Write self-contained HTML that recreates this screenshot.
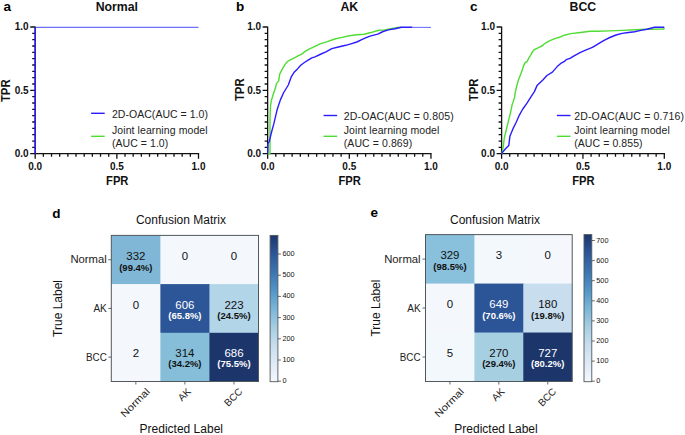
<!DOCTYPE html>
<html><head><meta charset="utf-8"><title>ROC and confusion matrices</title><style>
html,body{margin:0;padding:0;background:#fff;}
svg{display:block;}
text{font-family:"Liberation Sans", sans-serif;}
.tk{font-size:10px;font-weight:700;fill:#111;}
.ttl{font-size:12.3px;font-weight:700;fill:#111;}
.pl{font-size:13.5px;font-weight:700;fill:#000;}
.axt{font-size:12.2px;font-weight:700;fill:#111;}
.lg{font-size:10.5px;fill:#222;}
.cn{font-size:10px;}
.cp{font-size:9.5px;font-weight:700;}
.rl{font-size:10px;fill:#222;}
.ct{font-size:12px;fill:#111;}
.cb{font-size:7.3px;fill:#111;}
</style></head>
<body><svg width="685" height="435" viewBox="0 0 685 435">
<defs><linearGradient id="gd" x1="0" y1="1" x2="0" y2="0"><stop offset="0.000" stop-color="#f4f8fc"/><stop offset="0.125" stop-color="#deeaf5"/><stop offset="0.250" stop-color="#c8ddee"/><stop offset="0.375" stop-color="#a5cde2"/><stop offset="0.500" stop-color="#79b5d8"/><stop offset="0.625" stop-color="#5195c6"/><stop offset="0.750" stop-color="#3a74b0"/><stop offset="0.875" stop-color="#2c5697"/><stop offset="1.000" stop-color="#1c366c"/></linearGradient><linearGradient id="ge" x1="0" y1="1" x2="0" y2="0"><stop offset="0.000" stop-color="#f4f8fc"/><stop offset="0.125" stop-color="#deeaf5"/><stop offset="0.250" stop-color="#c8ddee"/><stop offset="0.375" stop-color="#a5cde2"/><stop offset="0.500" stop-color="#79b5d8"/><stop offset="0.625" stop-color="#5195c6"/><stop offset="0.750" stop-color="#3a74b0"/><stop offset="0.875" stop-color="#2c5697"/><stop offset="1.000" stop-color="#1c366c"/></linearGradient></defs>
<rect width="685" height="435" fill="#fff"/>
<path d="M35.20,26.40V153.70 M34.50,153.70H199.20 M30.20,153.70H35.20 M32.20,147.36H35.20 M32.20,141.03H35.20 M32.20,134.69H35.20 M32.20,128.36H35.20 M32.20,122.02H35.20 M32.20,115.69H35.20 M32.20,109.35H35.20 M32.20,103.02H35.20 M32.20,96.68H35.20 M30.20,90.35H35.20 M32.20,84.02H35.20 M32.20,77.68H35.20 M32.20,71.34H35.20 M32.20,65.01H35.20 M32.20,58.67H35.20 M32.20,52.34H35.20 M32.20,46.01H35.20 M32.20,39.67H35.20 M32.20,33.34H35.20 M30.20,27.00H35.20 M35.20,153.70V158.70 M43.37,153.70V156.70 M51.53,153.70V156.70 M59.70,153.70V156.70 M67.86,153.70V156.70 M76.03,153.70V156.70 M84.19,153.70V156.70 M92.36,153.70V156.70 M100.52,153.70V156.70 M108.69,153.70V156.70 M116.85,153.70V158.70 M125.02,153.70V156.70 M133.18,153.70V156.70 M141.35,153.70V156.70 M149.51,153.70V156.70 M157.68,153.70V156.70 M165.84,153.70V156.70 M174.00,153.70V156.70 M182.17,153.70V156.70 M190.34,153.70V156.70 M198.50,153.70V158.70" stroke="#111" stroke-width="1.3" fill="none"/>
<text x="28.60" y="157.00" text-anchor="end" class="tk">0.0</text>
<text x="35.20" y="169.6" text-anchor="middle" class="tk">0.0</text>
<text x="28.60" y="93.65" text-anchor="end" class="tk">0.5</text>
<text x="116.85" y="169.6" text-anchor="middle" class="tk">0.5</text>
<text x="28.60" y="30.30" text-anchor="end" class="tk">1.0</text>
<text x="198.50" y="169.6" text-anchor="middle" class="tk">1.0</text>
<text x="116.85" y="10.8" text-anchor="middle" class="ttl">Normal</text>
<text x="3.60" y="10.70" class="pl">a</text>
<text x="117.25" y="185.2" text-anchor="middle" class="axt" textLength="22.4" lengthAdjust="spacingAndGlyphs">FPR</text>
<text transform="translate(9.80,90.75) rotate(-90)" text-anchor="middle" class="axt" textLength="22.6" lengthAdjust="spacingAndGlyphs">TPR</text>
<path d="M91.10,113.30h13.6" stroke="#2b1cff" stroke-width="1.4"/>
<path d="M91.10,136.3h13.6" stroke="#4fdc33" stroke-width="1.4"/>
<text x="112.00" y="118.10" class="lg" textLength="95.91" lengthAdjust="spacing">2D-OAC(AUC = 1.0)</text>
<text x="112.00" y="133.7" class="lg" textLength="95.58" lengthAdjust="spacing">Joint learning model</text>
<text x="112.00" y="146.6" class="lg" textLength="56.23" lengthAdjust="spacing">(AUC = 1.0)</text>
<path d="M35.2,153.7V27.4" stroke="#2b1cff" stroke-width="1.5" fill="none"/>
<path d="M35.9,27.4H198.5" stroke="#7070ff" stroke-width="1.1" fill="none"/>
<path d="M267.65,26.40V153.70 M266.95,153.70H431.65 M262.65,153.70H267.65 M264.65,147.36H267.65 M264.65,141.03H267.65 M264.65,134.69H267.65 M264.65,128.36H267.65 M264.65,122.02H267.65 M264.65,115.69H267.65 M264.65,109.35H267.65 M264.65,103.02H267.65 M264.65,96.68H267.65 M262.65,90.35H267.65 M264.65,84.02H267.65 M264.65,77.68H267.65 M264.65,71.34H267.65 M264.65,65.01H267.65 M264.65,58.67H267.65 M264.65,52.34H267.65 M264.65,46.01H267.65 M264.65,39.67H267.65 M264.65,33.34H267.65 M262.65,27.00H267.65 M267.65,153.70V158.70 M275.81,153.70V156.70 M283.98,153.70V156.70 M292.14,153.70V156.70 M300.31,153.70V156.70 M308.47,153.70V156.70 M316.64,153.70V156.70 M324.81,153.70V156.70 M332.97,153.70V156.70 M341.13,153.70V156.70 M349.30,153.70V158.70 M357.46,153.70V156.70 M365.63,153.70V156.70 M373.79,153.70V156.70 M381.96,153.70V156.70 M390.12,153.70V156.70 M398.29,153.70V156.70 M406.45,153.70V156.70 M414.62,153.70V156.70 M422.78,153.70V156.70 M430.95,153.70V158.70" stroke="#111" stroke-width="1.3" fill="none"/>
<polyline points="267.65,153.70 270.00,153.70 270.00,134.70 270.00,118.10 270.50,106.50 271.30,100.70 273.80,92.50 275.50,88.00 276.40,83.60 278.70,80.90 279.60,74.40 282.40,68.90 285.10,64.30 287.90,61.10 293.40,58.30 298.00,55.90 301.70,54.20 304.40,51.90 309.00,49.10 315.00,46.40 320.00,43.80 327.40,41.60 334.70,39.00 342.10,37.40 349.40,35.70 356.80,34.80 364.10,34.30 370.00,32.80 377.80,30.50 384.40,29.90 391.00,28.60 397.60,27.50 401.50,27.30" fill="none" stroke="#4fdc33" stroke-width="1.4" stroke-linejoin="round" stroke-linecap="butt"/>
<polyline points="267.65,153.70 267.90,143.80 269.30,141.30 271.30,133.00 273.80,123.90 277.10,109.80 280.40,99.90 283.70,92.50 286.50,88.00 288.30,85.00 291.10,77.20 293.90,72.60 297.50,68.90 300.70,65.20 304.40,62.50 308.10,60.20 311.80,57.90 315.00,56.80 320.00,54.50 325.90,51.90 331.80,48.60 338.40,47.00 345.70,45.30 350.90,43.80 356.80,42.00 361.20,39.80 365.60,37.90 370.00,36.10 377.80,34.10 383.10,31.50 388.40,29.90 394.90,28.80 401.50,27.30 412.50,27.30" fill="none" stroke="#2b1cff" stroke-width="1.4" stroke-linejoin="round" stroke-linecap="butt"/>
<text x="261.05" y="157.00" text-anchor="end" class="tk">0.0</text>
<text x="267.65" y="169.6" text-anchor="middle" class="tk">0.0</text>
<text x="261.05" y="93.65" text-anchor="end" class="tk">0.5</text>
<text x="349.30" y="169.6" text-anchor="middle" class="tk">0.5</text>
<text x="261.05" y="30.30" text-anchor="end" class="tk">1.0</text>
<text x="430.95" y="169.6" text-anchor="middle" class="tk">1.0</text>
<text x="349.30" y="10.8" text-anchor="middle" class="ttl">AK</text>
<text x="236.00" y="10.80" class="pl">b</text>
<text x="349.70" y="185.2" text-anchor="middle" class="axt" textLength="22.4" lengthAdjust="spacingAndGlyphs">FPR</text>
<text transform="translate(243.50,89.75) rotate(-90)" text-anchor="middle" class="axt" textLength="22.6" lengthAdjust="spacingAndGlyphs">TPR</text>
<path d="M323.55,115.50h13.6" stroke="#2b1cff" stroke-width="1.4"/>
<path d="M323.55,136.3h13.6" stroke="#4fdc33" stroke-width="1.4"/>
<text x="343.75" y="120.30" class="lg" textLength="109.88" lengthAdjust="spacing">2D-OAC(AUC = 0.805)</text>
<text x="343.75" y="133.7" class="lg" textLength="95.58" lengthAdjust="spacing">Joint learning model</text>
<text x="343.75" y="146.6" class="lg" textLength="68.41" lengthAdjust="spacing">(AUC = 0.869)</text>
<path d="M412.5,27.4H430.95" stroke="#7070ff" stroke-width="1.1" fill="none"/>
<path d="M501.60,26.40V153.70 M500.90,153.70H665.00 M496.60,153.70H501.60 M498.60,147.36H501.60 M498.60,141.03H501.60 M498.60,134.69H501.60 M498.60,128.36H501.60 M498.60,122.02H501.60 M498.60,115.69H501.60 M498.60,109.35H501.60 M498.60,103.02H501.60 M498.60,96.68H501.60 M496.60,90.35H501.60 M498.60,84.02H501.60 M498.60,77.68H501.60 M498.60,71.34H501.60 M498.60,65.01H501.60 M498.60,58.67H501.60 M498.60,52.34H501.60 M498.60,46.01H501.60 M498.60,39.67H501.60 M498.60,33.34H501.60 M496.60,27.00H501.60 M501.60,153.70V158.70 M509.74,153.70V156.70 M517.87,153.70V156.70 M526.00,153.70V156.70 M534.14,153.70V156.70 M542.27,153.70V156.70 M550.41,153.70V156.70 M558.54,153.70V156.70 M566.68,153.70V156.70 M574.81,153.70V156.70 M582.95,153.70V158.70 M591.09,153.70V156.70 M599.22,153.70V156.70 M607.36,153.70V156.70 M615.49,153.70V156.70 M623.62,153.70V156.70 M631.76,153.70V156.70 M639.89,153.70V156.70 M648.03,153.70V156.70 M656.16,153.70V156.70 M664.30,153.70V158.70" stroke="#111" stroke-width="1.3" fill="none"/>
<polyline points="501.60,153.70 502.10,152.90 503.30,146.30 504.30,138.00 505.50,133.00 507.90,123.10 510.40,113.10 512.10,104.90 514.60,97.40 515.30,92.00 517.00,85.00 518.80,79.00 520.60,74.40 522.00,70.70 523.40,66.10 525.20,62.50 527.10,61.60 528.90,57.90 530.70,55.10 532.60,51.40 534.40,49.60 538.10,47.80 542.70,45.50 543.50,44.50 548.30,41.30 554.70,38.60 559.60,37.30 564.40,35.20 570.80,33.60 580.50,32.50 590.00,31.30 597.40,31.30 609.80,30.90 622.20,30.40 634.60,29.80 647.00,29.30 663.90,29.10 663.90,27.40" fill="none" stroke="#4fdc33" stroke-width="1.4" stroke-linejoin="round" stroke-linecap="butt"/>
<polyline points="501.60,153.70 502.10,152.90 505.50,148.70 508.80,145.40 509.90,136.30 512.90,128.90 516.20,122.30 519.50,114.80 522.80,109.00 527.00,103.20 531.10,96.60 534.40,91.60 537.00,85.60 543.10,79.70 546.90,75.50 552.40,72.10 557.20,66.60 560.70,63.40 564.10,61.70 566.20,59.70 570.00,58.30 574.10,55.80 580.50,52.30 585.00,50.30 592.40,47.40 597.40,44.30 603.60,40.60 609.80,37.50 616.00,35.00 622.20,33.40 628.40,32.50 634.60,31.70 640.80,30.40 647.00,29.20 654.50,27.30 664.30,27.30" fill="none" stroke="#2b1cff" stroke-width="1.4" stroke-linejoin="round" stroke-linecap="butt"/>
<text x="495.00" y="157.00" text-anchor="end" class="tk">0.0</text>
<text x="501.60" y="169.6" text-anchor="middle" class="tk">0.0</text>
<text x="495.00" y="93.65" text-anchor="end" class="tk">0.5</text>
<text x="582.95" y="169.6" text-anchor="middle" class="tk">0.5</text>
<text x="495.00" y="30.30" text-anchor="end" class="tk">1.0</text>
<text x="664.30" y="169.6" text-anchor="middle" class="tk">1.0</text>
<text x="582.95" y="10.8" text-anchor="middle" class="ttl">BCC</text>
<text x="470.00" y="11.00" class="pl">c</text>
<text x="583.35" y="185.2" text-anchor="middle" class="axt" textLength="22.4" lengthAdjust="spacingAndGlyphs">FPR</text>
<text transform="translate(477.60,89.95) rotate(-90)" text-anchor="middle" class="axt" textLength="22.6" lengthAdjust="spacingAndGlyphs">TPR</text>
<path d="M556.90,115.50h13.6" stroke="#2b1cff" stroke-width="1.4"/>
<path d="M556.90,136.3h13.6" stroke="#4fdc33" stroke-width="1.4"/>
<text x="574.20" y="120.30" class="lg" textLength="109.88" lengthAdjust="spacing">2D-OAC(AUC = 0.716)</text>
<text x="574.20" y="133.7" class="lg" textLength="95.58" lengthAdjust="spacing">Joint learning model</text>
<text x="574.20" y="146.6" class="lg" textLength="68.41" lengthAdjust="spacing">(AUC = 0.855)</text>
<rect x="111.30" y="235.40" width="49.67" height="49.30" fill="#80b7d6"/>
<rect x="160.37" y="235.40" width="49.67" height="49.30" fill="#f4f8fc"/>
<rect x="209.43" y="235.40" width="49.07" height="49.30" fill="#f4f8fc"/>
<rect x="111.30" y="284.10" width="49.67" height="49.30" fill="#f4f8fc"/>
<rect x="160.37" y="284.10" width="49.67" height="49.30" fill="#2c5697"/>
<rect x="209.43" y="284.10" width="49.07" height="49.30" fill="#b2d5e8"/>
<rect x="111.30" y="332.80" width="49.67" height="48.70" fill="#f4f8fc"/>
<rect x="160.37" y="332.80" width="49.67" height="48.70" fill="#86bdd8"/>
<rect x="209.43" y="332.80" width="49.07" height="48.70" fill="#1c366c"/>
<text x="135.83" y="260.05" text-anchor="middle" class="cn" fill="#111" textLength="19.08" lengthAdjust="spacingAndGlyphs">332</text>
<text x="135.83" y="270.65" text-anchor="middle" class="cp" fill="#111">(99.4%)</text>
<text x="184.90" y="260.05" text-anchor="middle" class="cn" fill="#111" textLength="6.36" lengthAdjust="spacingAndGlyphs">0</text>
<text x="233.97" y="260.05" text-anchor="middle" class="cn" fill="#111" textLength="6.36" lengthAdjust="spacingAndGlyphs">0</text>
<text x="135.83" y="308.75" text-anchor="middle" class="cn" fill="#111" textLength="6.36" lengthAdjust="spacingAndGlyphs">0</text>
<text x="184.90" y="308.75" text-anchor="middle" class="cn" fill="#fff" textLength="19.08" lengthAdjust="spacingAndGlyphs">606</text>
<text x="184.90" y="319.05" text-anchor="middle" class="cp" fill="#fff">(65.8%)</text>
<text x="233.97" y="308.75" text-anchor="middle" class="cn" fill="#111" textLength="19.08" lengthAdjust="spacingAndGlyphs">223</text>
<text x="233.97" y="319.05" text-anchor="middle" class="cp" fill="#111">(24.5%)</text>
<text x="135.83" y="357.45" text-anchor="middle" class="cn" fill="#111" textLength="6.36" lengthAdjust="spacingAndGlyphs">2</text>
<text x="184.90" y="357.45" text-anchor="middle" class="cn" fill="#111" textLength="19.08" lengthAdjust="spacingAndGlyphs">314</text>
<text x="184.90" y="366.75" text-anchor="middle" class="cp" fill="#111">(34.2%)</text>
<text x="233.97" y="357.45" text-anchor="middle" class="cn" fill="#fff" textLength="19.08" lengthAdjust="spacingAndGlyphs">686</text>
<text x="233.97" y="366.75" text-anchor="middle" class="cp" fill="#fff">(75.5%)</text>
<rect x="111.30" y="235.40" width="147.20" height="146.10" fill="none" stroke="#50585c" stroke-width="1"/>
<path d="M108.30,259.75H111.30 M135.83,381.50V384.50 M108.30,308.45H111.30 M184.90,381.50V384.50 M108.30,357.15H111.30 M233.97,381.50V384.50" stroke="#50585c" stroke-width="0.9"/>
<text x="106.80" y="263.35" text-anchor="end" class="rl" textLength="36.40" lengthAdjust="spacingAndGlyphs">Normal</text>
<text x="106.80" y="312.05" text-anchor="end" class="rl" textLength="13.40" lengthAdjust="spacingAndGlyphs">AK</text>
<text x="106.80" y="360.75" text-anchor="end" class="rl" textLength="20.80" lengthAdjust="spacingAndGlyphs">BCC</text>
<text transform="translate(135.03,402.50) rotate(-45)" text-anchor="middle" y="3.6" class="rl" textLength="36.40" lengthAdjust="spacingAndGlyphs">Normal</text>
<text transform="translate(184.10,394.37) rotate(-45)" text-anchor="middle" y="3.6" class="rl" textLength="13.40" lengthAdjust="spacingAndGlyphs">AK</text>
<text transform="translate(233.17,396.98) rotate(-45)" text-anchor="middle" y="3.6" class="rl" textLength="20.80" lengthAdjust="spacingAndGlyphs">BCC</text>
<rect x="270.10" y="235.40" width="7.8" height="146.30" fill="url(#gd)" stroke="#50585c" stroke-width="0.9"/>
<text x="282.40" y="383.20" class="cb">0</text>
<text x="282.40" y="362.00" class="cb">100</text>
<text x="282.40" y="340.80" class="cb">200</text>
<text x="282.40" y="319.60" class="cb">300</text>
<text x="282.40" y="298.40" class="cb">400</text>
<text x="282.40" y="277.20" class="cb">500</text>
<text x="282.40" y="256.00" class="cb">600</text>
<path d="M277.90,381.20h3 M277.90,360.00h3 M277.90,338.80h3 M277.90,317.60h3 M277.90,296.40h3 M277.90,275.20h3 M277.90,254.00h3" stroke="#444" stroke-width="0.8"/>
<text x="52.30" y="217.60" class="pl">d</text>
<text x="180.90" y="223.70" text-anchor="middle" class="ct">Confusion Matrix</text>
<text x="181.30" y="433.3" text-anchor="middle" class="ct">Predicted Label</text>
<text transform="translate(62.30,308.45) rotate(-90)" text-anchor="middle" class="ct">True Label</text>
<rect x="425.50" y="234.60" width="49.50" height="49.57" fill="#89c0dc"/>
<rect x="474.40" y="234.60" width="49.50" height="49.57" fill="#f3f8fc"/>
<rect x="523.30" y="234.60" width="48.90" height="49.57" fill="#f4f8fc"/>
<rect x="425.50" y="283.57" width="49.50" height="49.57" fill="#f4f8fc"/>
<rect x="474.40" y="283.57" width="49.50" height="49.57" fill="#2c5597"/>
<rect x="523.30" y="283.57" width="48.90" height="49.57" fill="#c8ddee"/>
<rect x="425.50" y="332.53" width="49.50" height="48.97" fill="#f3f8fc"/>
<rect x="474.40" y="332.53" width="49.50" height="48.97" fill="#a7cfe2"/>
<rect x="523.30" y="332.53" width="48.90" height="48.97" fill="#1c366c"/>
<text x="449.95" y="259.38" text-anchor="middle" class="cn" fill="#111" textLength="19.08" lengthAdjust="spacingAndGlyphs">329</text>
<text x="449.95" y="269.98" text-anchor="middle" class="cp" fill="#111">(98.5%)</text>
<text x="498.85" y="259.38" text-anchor="middle" class="cn" fill="#111" textLength="6.36" lengthAdjust="spacingAndGlyphs">3</text>
<text x="547.75" y="259.38" text-anchor="middle" class="cn" fill="#111" textLength="6.36" lengthAdjust="spacingAndGlyphs">0</text>
<text x="449.95" y="308.35" text-anchor="middle" class="cn" fill="#111" textLength="6.36" lengthAdjust="spacingAndGlyphs">0</text>
<text x="498.85" y="308.35" text-anchor="middle" class="cn" fill="#fff" textLength="19.08" lengthAdjust="spacingAndGlyphs">649</text>
<text x="498.85" y="318.65" text-anchor="middle" class="cp" fill="#fff">(70.6%)</text>
<text x="547.75" y="308.35" text-anchor="middle" class="cn" fill="#111" textLength="19.08" lengthAdjust="spacingAndGlyphs">180</text>
<text x="547.75" y="318.65" text-anchor="middle" class="cp" fill="#111">(19.8%)</text>
<text x="449.95" y="357.32" text-anchor="middle" class="cn" fill="#111" textLength="6.36" lengthAdjust="spacingAndGlyphs">5</text>
<text x="498.85" y="357.32" text-anchor="middle" class="cn" fill="#111" textLength="19.08" lengthAdjust="spacingAndGlyphs">270</text>
<text x="498.85" y="366.62" text-anchor="middle" class="cp" fill="#111">(29.4%)</text>
<text x="547.75" y="357.32" text-anchor="middle" class="cn" fill="#fff" textLength="19.08" lengthAdjust="spacingAndGlyphs">727</text>
<text x="547.75" y="366.62" text-anchor="middle" class="cp" fill="#fff">(80.2%)</text>
<rect x="425.50" y="234.60" width="146.70" height="146.90" fill="none" stroke="#50585c" stroke-width="1"/>
<path d="M422.50,259.08H425.50 M449.95,381.50V384.50 M422.50,308.05H425.50 M498.85,381.50V384.50 M422.50,357.02H425.50 M547.75,381.50V384.50" stroke="#50585c" stroke-width="0.9"/>
<text x="420.60" y="262.68" text-anchor="end" class="rl" textLength="36.40" lengthAdjust="spacingAndGlyphs">Normal</text>
<text x="420.60" y="311.65" text-anchor="end" class="rl" textLength="13.40" lengthAdjust="spacingAndGlyphs">AK</text>
<text x="420.60" y="360.62" text-anchor="end" class="rl" textLength="20.80" lengthAdjust="spacingAndGlyphs">BCC</text>
<text transform="translate(449.15,402.50) rotate(-45)" text-anchor="middle" y="3.6" class="rl" textLength="36.40" lengthAdjust="spacingAndGlyphs">Normal</text>
<text transform="translate(498.05,394.37) rotate(-45)" text-anchor="middle" y="3.6" class="rl" textLength="13.40" lengthAdjust="spacingAndGlyphs">AK</text>
<text transform="translate(546.95,396.98) rotate(-45)" text-anchor="middle" y="3.6" class="rl" textLength="20.80" lengthAdjust="spacingAndGlyphs">BCC</text>
<rect x="584.00" y="234.60" width="7.8" height="147.10" fill="url(#ge)" stroke="#50585c" stroke-width="0.9"/>
<text x="596.30" y="383.20" class="cb">0</text>
<text x="596.30" y="363.10" class="cb">100</text>
<text x="596.30" y="343.00" class="cb">200</text>
<text x="596.30" y="322.90" class="cb">300</text>
<text x="596.30" y="302.80" class="cb">400</text>
<text x="596.30" y="282.70" class="cb">500</text>
<text x="596.30" y="262.60" class="cb">600</text>
<text x="596.30" y="242.50" class="cb">700</text>
<path d="M591.80,381.20h3 M591.80,361.10h3 M591.80,341.00h3 M591.80,320.90h3 M591.80,300.80h3 M591.80,280.70h3 M591.80,260.60h3 M591.80,240.50h3" stroke="#444" stroke-width="0.8"/>
<text x="370.60" y="217.00" class="pl">e</text>
<text x="495.00" y="224.00" text-anchor="middle" class="ct">Confusion Matrix</text>
<text x="496.00" y="433.3" text-anchor="middle" class="ct">Predicted Label</text>
<text transform="translate(380.20,308.05) rotate(-90)" text-anchor="middle" class="ct">True Label</text>
</svg></body></html>
